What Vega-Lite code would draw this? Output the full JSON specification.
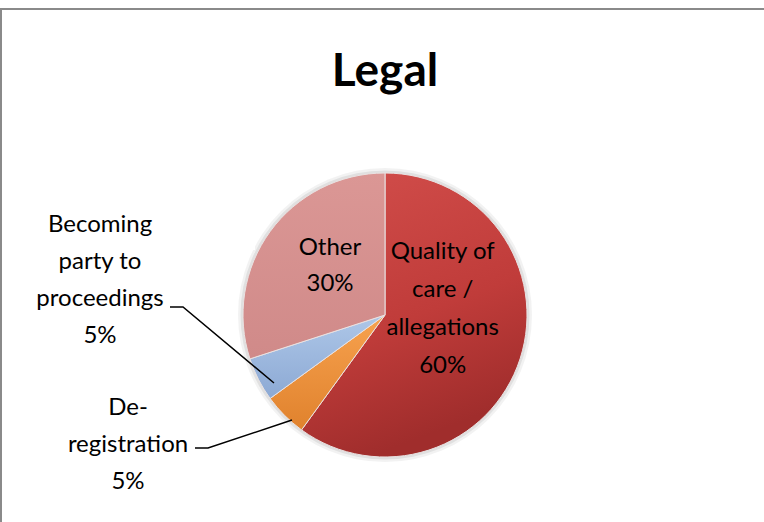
{
  "$schema": "https://vega.github.io/schema/vega-lite/v6.json",
  "width": 768,
  "height": 612,
  "autosize": "none",
  "padding": {"left": 1, "top": 9, "right": 0, "bottom": 0},
  "background": "white",
  "config": {"view": {"stroke": "#8a8a8a", "strokeWidth": 2}, "font": "Lato"},
  "title": {"text": "Legal", "font": "Lato", "fontSize": 46, "fontWeight": "bold", "color": "black", "anchor": "middle", "orient": "top", "baseline": "alphabetic", "offset": -123},
  "datasets": {
    "slices": [
      {"category": "Quality of care / allegations", "share": 60, "rank": 1, "placement": "inside", "label": ["Quality of", "care /", "allegations", "60%"]},
      {"category": "De-registration", "share": 5, "rank": 2, "placement": "outside", "label": ["De-", "registration", "5%"]},
      {"category": "Becoming party to proceedings", "share": 5, "rank": 3, "placement": "outside", "label": ["Becoming", "party to", "proceedings", "5%"]},
      {"category": "Other", "share": 30, "rank": 4, "placement": "inside", "label": ["Other", "30%"]}
    ],
    "callouts": [
      {"category": "Becoming party to proceedings", "label": ["Becoming", "party to", "proceedings", "5%"], "x": -2.85, "y": 0.9},
      {"category": "De-registration", "label": ["De-", "registration", "5%"], "x": -2.57, "y": -0.93}
    ],
    "leaders": [
      {"category": "Becoming party to proceedings", "seq": 1, "x": -2.15, "y": 0.08},
      {"category": "Becoming party to proceedings", "seq": 2, "x": -2.02, "y": 0.08},
      {"category": "Becoming party to proceedings", "seq": 3, "x": -1.11, "y": -0.68},
      {"category": "De-registration", "seq": 1, "x": -1.9, "y": -1.33},
      {"category": "De-registration", "seq": 2, "x": -1.77, "y": -1.33},
      {"category": "De-registration", "seq": 3, "x": -0.93, "y": -1.05}
    ],
    "shadow": [
      {"part": "pie shadow", "share": 100}
    ]
  },
  "layer": [
    {
      "data": {"name": "shadow"},
      "mark": {"type": "arc", "radius": 147, "fill": "#000000", "opacity": 0.05},
      "encoding": {"theta": {"field": "share", "type": "quantitative", "stack": true}}
    },
    {
      "data": {"name": "shadow"},
      "mark": {"type": "arc", "radius": 144.5, "fill": "#000000", "opacity": 0.07},
      "encoding": {"theta": {"field": "share", "type": "quantitative", "stack": true}}
    },
    {
      "data": {"name": "slices"},
      "mark": {"type": "arc", "radius": 142, "stroke": "#e9e2e2", "strokeWidth": 1},
      "encoding": {
        "theta": {"field": "share", "type": "quantitative", "stack": true},
        "order": {"field": "rank", "type": "quantitative"},
        "fill": {
          "condition": [
            {"test": "datum.category === 'Quality of care / allegations'", "value": {"gradient": "linear", "x1": 0, "y1": 0, "x2": 0.3, "y2": 1, "stops": [{"offset": 0, "color": "#D24E4B"}, {"offset": 0.6, "color": "#C03C3A"}, {"offset": 1, "color": "#A02D2C"}]}},
            {"test": "datum.category === 'De-registration'", "value": {"gradient": "linear", "x1": 0, "y1": 0, "x2": 0, "y2": 1, "stops": [{"offset": 0, "color": "#F7A24F"}, {"offset": 1, "color": "#E0822D"}]}},
            {"test": "datum.category === 'Becoming party to proceedings'", "value": {"gradient": "linear", "x1": 0, "y1": 0, "x2": 0, "y2": 1, "stops": [{"offset": 0, "color": "#AEC7E8"}, {"offset": 1, "color": "#8CA9D4"}]}}
          ],
          "value": {"gradient": "linear", "x1": 0, "y1": 0, "x2": 0, "y2": 1, "stops": [{"offset": 0, "color": "#DB9795"}, {"offset": 1, "color": "#D08A89"}]}
        }
      }
    },
    {
      "data": {"name": "slices"},
      "mark": {"type": "text", "radius": 68, "dx": -7, "dy": -84, "fontSize": 24, "lineHeight": 38, "align": "center", "baseline": "middle", "color": "black", "font": "Lato"},
      "encoding": {
        "theta": {"field": "share", "type": "quantitative", "stack": true},
        "order": {"field": "rank", "type": "quantitative"},
        "text": {"condition": {"test": "datum.category === 'Quality of care / allegations'", "field": "label"}, "value": ""}
      }
    },
    {
      "data": {"name": "slices"},
      "mark": {"type": "text", "radius": 68, "dy": -27, "fontSize": 24, "lineHeight": 36, "align": "center", "baseline": "middle", "color": "black", "font": "Lato"},
      "encoding": {
        "theta": {"field": "share", "type": "quantitative", "stack": true},
        "order": {"field": "rank", "type": "quantitative"},
        "text": {"condition": {"test": "datum.category === 'Other'", "field": "label"}, "value": ""}
      }
    },
    {
      "data": {"name": "leaders"},
      "mark": {"type": "line", "color": "black", "strokeWidth": 1.5},
      "encoding": {
        "x": {"field": "x", "type": "quantitative", "scale": {"domain": [-3.84, 3.84], "nice": false, "zero": false}, "axis": null},
        "y": {"field": "y", "type": "quantitative", "scale": {"domain": [-3.06, 3.06], "nice": false, "zero": false}, "axis": null},
        "detail": {"field": "category"},
        "order": {"field": "seq", "type": "quantitative"}
      }
    },
    {
      "data": {"name": "callouts"},
      "mark": {"type": "text", "fontSize": 24, "lineHeight": 37, "align": "center", "baseline": "middle", "color": "black", "font": "Lato"},
      "encoding": {
        "x": {"field": "x", "type": "quantitative"},
        "y": {"field": "y", "type": "quantitative"},
        "text": {"field": "label"}
      }
    }
  ]
}
